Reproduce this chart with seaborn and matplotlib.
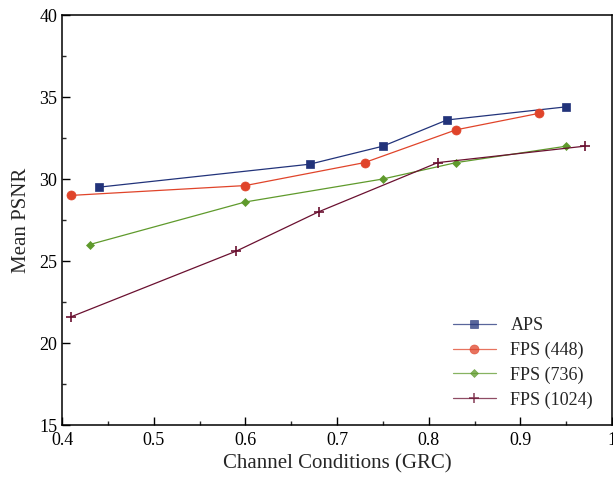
import matplotlib
matplotlib.use("Agg")
import matplotlib.pyplot as plt
from matplotlib.ticker import MultipleLocator
import seaborn as sns
import pandas as pd

sns.set_theme(style="ticks")
plt.rcParams["font.family"] = ["Liberation Serif", "DejaVu Serif"]
plt.rcParams["mathtext.fontset"] = "stix"

# Measured mean PSNR against channel conditions (GRC)
aps_x = [0.44, 0.67, 0.75, 0.82, 0.95]
aps_y = [29.5, 30.9, 32.0, 33.6, 34.4]
fps448_x = [0.41, 0.60, 0.73, 0.83, 0.92]
fps448_y = [29.0, 29.6, 31.0, 33.0, 34.0]
fps736_x = [0.43, 0.60, 0.75, 0.83, 0.95]
fps736_y = [26.0, 28.6, 30.0, 31.0, 32.0]
fps1024_x = [0.41, 0.59, 0.68, 0.81, 0.97]
fps1024_y = [21.6, 25.6, 28.0, 31.0, 32.0]

series_names = ["APS", "FPS (448)", "FPS (736)", "FPS (1024)"]
series_x = [aps_x, fps448_x, fps736_x, fps1024_x]
series_y = [aps_y, fps448_y, fps736_y, fps1024_y]
colors = ["#22337a", "#e0442a", "#5f9a2c", "#6a1030"]
markers = ["s", "o", "D", "+"]
msizes = [6, 6.5, 4.5, 7]

frames = []
for name, xs, ys in zip(series_names, series_x, series_y):
    frames.append(pd.DataFrame({"grc": xs, "psnr": ys, "scheme": name}))
df = pd.concat(frames, ignore_index=True)

fig = plt.figure(figsize=(6.13, 4.82), dpi=100)
ax = fig.add_axes([62 / 613, 1 - 425 / 482, 550 / 613, 410 / 482])

for name, c, m, ms in zip(series_names, colors, markers, msizes):
    sub = df[df["scheme"] == name]
    sns.lineplot(data=sub, x="grc", y="psnr", ax=ax, color=c, marker=m,
                 markersize=ms, linewidth=0.9, markeredgecolor=c,
                 markeredgewidth=1.2 if m == "+" else 0.5, label=name,
                 sort=False, estimator=None)

ax.set_xlim(0.4, 1.0)
ax.set_ylim(15, 40)
ax.xaxis.set_major_locator(MultipleLocator(0.1))
ax.xaxis.set_minor_locator(MultipleLocator(0.05))
ax.yaxis.set_major_locator(MultipleLocator(5))
ax.yaxis.set_minor_locator(MultipleLocator(2.5))
ax.set_xticks([0.4, 0.5, 0.6, 0.7, 0.8, 0.9, 1.0])
ax.set_xticklabels(["0.4", "0.5", "0.6", "0.7", "0.8", "0.9", "1"])
ax.tick_params(which="major", direction="in", length=6, width=1,
               labelsize=13, colors="black", top=False, right=False)
ax.tick_params(axis="x", which="major", pad=5)
ax.tick_params(which="minor", direction="in", length=3, width=1,
               top=False, right=False)
for s in ax.spines.values():
    s.set_linewidth(1.1)
    s.set_color("black")

ax.set_xlabel("Channel Conditions (GRC)", fontsize=15, labelpad=4)
ax.set_ylabel("Mean PSNR", fontsize=15, labelpad=6)

leg = ax.legend(loc="lower right", frameon=False, fontsize=13,
                handlelength=2.4, handletextpad=0.8, labelspacing=0.42,
                bbox_to_anchor=(0.995, 0.0))
for h in leg.get_lines():
    h.set_alpha(0.75)

fig.savefig("out.png", dpi=100)
